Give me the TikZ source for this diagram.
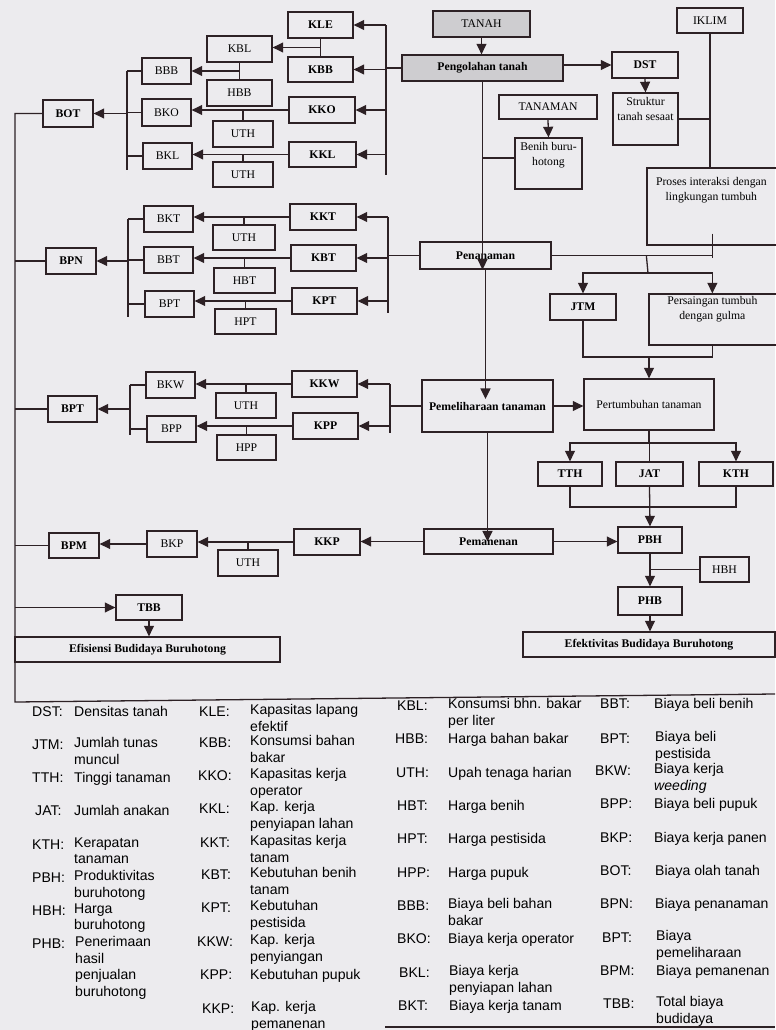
\documentclass[tikz,border=0pt]{standalone}
\usepackage{fontspec}
\setmainfont{Liberation Serif}
\setsansfont{Liberation Sans}
\usetikzlibrary{arrows.meta,calc}
\definecolor{bgc}{RGB}{236,235,238}
\definecolor{lnc}{RGB}{45,33,37}
\definecolor{shd}{RGB}{206,205,208}
\tikzset{
 bx/.style={draw=lnc, line width=1.1pt, inner sep=0pt, align=center, font=\fontsize{10}{12.8}\selectfont},
 bf/.style={font=\fontsize{10}{12.8}\selectfont\bfseries},
 shaded/.style={fill=shd},
 wire/.style={draw=lnc, line width=1.1pt},
 arr/.style={draw=lnc, line width=1.1pt, -{Triangle[length=9pt,width=8.5pt]}},
 tx/.style={inner sep=0pt, align=center, font=\fontsize{10}{12.8}\selectfont},
 lg/.style={inner sep=0pt, anchor=north west, align=left, font=\sffamily\fontsize{12}{14.1}\selectfont, execute at begin node=\strut},
}
\newcommand\Bx[7][]{\node[bx,#1,minimum width={(#4-#2)*0.03cm},minimum height={(#5-#3)*0.03cm}] (#6) at ({(#2+#4)/2},{(#3+#5)/2}) {#7};}
\newcommand\Lg[5]{\node[lg] at (#1,{#3-6.6}) {#4}; \node[lg] at (#2,{#3-6.6}) {#5};}
\begin{document}
\begin{tikzpicture}[x=0.03cm,y=-0.03cm]
\useasboundingbox (0,0) rectangle (775,1030);
\fill[bgc] (0,0) rectangle (775,1030);

% ---------- boxes ----------
\Bx{207}{36}{272}{62}{kbl}{KBL}
\Bx{207}{80}{272}{106}{hbb}{HBB}
\Bx{213}{121}{273}{147}{uth1}{UTH}
\Bx{213}{162}{273}{187}{uth2}{UTH}
\Bx{142}{58}{191}{84}{bbb}{BBB}
\Bx{142}{99}{191}{126}{bko}{BKO}
\Bx{143}{143}{192}{169}{bkl}{BKL}
\Bx[bf]{43}{100}{93}{127}{bot}{BOT}
\Bx[bf]{288}{12}{353}{38}{kle}{KLE}
\Bx[bf]{288}{57}{353}{82}{kbb}{KBB}
\Bx[bf]{289}{97}{355}{123}{kko}{KKO}
\Bx[bf]{289}{142}{356}{167}{kkl}{KKL}
\Bx[shaded]{433}{11}{530}{37}{tanah}{TANAH}
\Bx[shaded,bf]{402}{55}{563}{81}{peng}{Pengolahan tanah}
\Bx{499}{95}{597}{119}{tanaman}{TANAMAN}
\Bx{515}{138}{582}{189}{benih}{}
\node[tx,anchor=north] (benihT) at ($(benih.north)+(0,5)$) {Benih buru-\\hotong};
\Bx[bf]{612}{52}{678}{78}{dst}{DST}
\Bx{613}{93}{678}{145}{struk}{}
\node[tx,anchor=north] (strukT) at ($(struk.north)+(0,5)$) {Struktur\\tanah sesaat};
\Bx{677}{8}{743}{33}{iklim}{IKLIM}
\Bx{647}{168}{792}{245}{proses}{}
\node[tx,anchor=north] (prosesT) at ($(proses.north west)+(65,10)$) {Proses interaksi dengan\\lingkungan tumbuh};

\Bx{144}{206}{193}{232}{bkt}{BKT}
\Bx{144}{247}{193}{273}{bbt}{BBT}
\Bx{145}{291}{194}{317}{bpta}{BPT}
\Bx[bf]{46}{248}{96}{274}{bpn}{BPN}
\Bx{213}{225}{275}{250}{uth3}{UTH}
\Bx{214}{268}{275}{293}{hbt}{HBT}
\Bx{215}{309}{276}{334}{hpt}{HPT}
\Bx[bf]{290}{204}{356}{230}{kkt}{KKT}
\Bx[bf]{291}{245}{356}{271}{kbt}{KBT}
\Bx[bf]{292}{288}{357}{314}{kpt}{KPT}
\Bx[bf]{420}{242}{551}{269}{pena}{Penanaman}

\Bx[bf]{292}{371}{357}{397}{kkw}{KKW}
\Bx[bf]{293}{413}{358}{439}{kpp}{KPP}
\Bx{146}{372}{195}{398}{bkw}{BKW}
\Bx{147}{416}{196}{442}{bpp}{BPP}
\Bx[bf]{48}{396}{97}{422}{bptb}{BPT}
\Bx{216}{393}{276}{418}{uth4}{UTH}
\Bx{217}{435}{276}{460}{hpp}{HPP}
\Bx[bf]{422}{380}{553}{432}{pemel}{Pemeliharaan tanaman}

\Bx[bf]{550}{294}{616}{320}{jtm}{JTM}
\Bx{649}{294}{792}{345}{pers}{}
\coordinate (persN) at ($(pers.north west)+(64,0)$);
\coordinate (persS) at ($(pers.south west)+(64,0)$);
\node[tx,anchor=north] (persT) at ($(persN)+(0,3)$) {Persaingan tumbuh\\dengan gulma};
\Bx{584}{379}{714}{430}{pert}{Pertumbuhan tanaman}
\Bx[bf]{538}{462}{602}{486}{tth}{TTH}
\Bx[bf]{616}{462}{683}{486}{jat}{JAT}
\Bx[bf]{699}{462}{773}{486}{kth}{KTH}
\Bx[bf]{618}{527}{682}{553}{pbh}{PBH}
\Bx{700}{557}{749}{582}{hbh}{HBH}
\Bx[bf]{618}{587}{682}{615}{phb}{PHB}
\Bx[bf]{523}{632}{775}{657}{efek}{Efektivitas Budidaya Buruhotong}

\Bx[bf]{294}{529}{360}{555}{kkp}{KKP}
\Bx[bf]{424}{529}{553}{554}{pemn}{Pemanenan}
\Bx{218}{550}{278}{576}{uth5}{UTH}
\Bx{147}{531}{197}{557}{bkp}{BKP}
\Bx[bf]{49}{533}{99}{558}{bpm}{BPM}
\Bx[bf]{116}{595}{182}{620}{tbb}{TBB}
\Bx[bf]{15}{637}{280}{662}{efis}{Efisiensi Budidaya Buruhotong}

% ---------- connectors: top-left ----------
\draw[wire] (kle.south) -- (kbb.north);
\coordinate (m1) at ($(kle.south)!.5!(kbb.north)$);
\draw[arr] (m1) -- (m1 -| kbl.east);
\draw[wire] (kbl.south) -- (hbb.north);
\coordinate (m2) at ($(kbl.south)!.5!(hbb.north)$);
\draw[arr] (m2) -- (m2 -| bbb.east);

\coordinate (b1) at (386,24);
\draw[wire] (b1 |- kle) -- (386,175);
\draw[arr] (b1 |- kle) -- (kle);
\draw[wire] (peng.west) -- (peng.west -| b1);
\draw[arr] (b1 |- kbb) -- (kbb);
\draw[arr] (b1 |- kko) -- (kko);
\draw[arr] (b1 |- kkl) -- (kkl);

\draw[arr] (kko.west) -- (kko.west -| bko.east);
\draw[wire] (uth1.north) -- (uth1.north |- kko.west);
\draw[arr] (kkl.west) -- (kkl.west -| bkl.east);
\draw[wire] (uth2.north) -- (uth2.north |- kkl.west);

\coordinate (b2) at (127,70);
\draw[wire] (b2 |- bbb) -- (127,170);
\draw[wire] (b2 |- bbb) -- (bbb);
\draw[wire] (b2 |- bko) -- (bko);
\draw[wire] (b2 |- bkl) -- (bkl);
\draw[arr] (b2 |- bot) -- (bot);

% left collecting line and legend frame
\coordinate (lb) at (15,114);
\draw[wire] (bot.west) -| (15,702) -- (775,694);
\draw[wire] (385,1027) -- (775,1027);

% ---------- Penanaman cluster ----------
\coordinate (b3) at (388,213);
\draw[wire] (b3 |- kkt) -- (388,313);
\draw[arr] (b3 |- kkt) -- (kkt);
\draw[arr] (b3 |- kbt) -- (kbt);
\draw[arr] (b3 |- kpt) -- (kpt);
\draw[wire] (pena.west) -- (pena.west -| b3);
\draw[arr] (kkt.west) -- (kkt.west -| bkt.east);
\draw[wire] (uth3.north) -- (uth3.north |- kkt.west);
\draw[arr] (kbt.west) -- (kbt.west -| bbt.east);
\draw[wire] (hbt.north) -- (hbt.north |- kbt.west);
\draw[arr] (kpt.west) -- (kpt.west -| bpta.east);
\draw[wire] (hpt.north) -- (hpt.north |- kpt.west);
\coordinate (b4) at (128,215);
\draw[wire] (b4 |- bkt) -- (128,317);
\draw[wire] (b4 |- bkt) -- (bkt);
\draw[wire] (b4 |- bbt) -- (bbt);
\draw[wire] (b4 |- bpta) -- (bpta);
\draw[arr] (b4 |- bpn) -- (bpn);
\draw[wire] (bpn) -- (lb |- bpn);

% ---------- Pemeliharaan cluster ----------
\coordinate (b5) at (390,382);
\draw[wire] (b5 |- kkw) -- (390,433);
\draw[arr] (b5 |- kkw) -- (kkw);
\draw[arr] (b5 |- kpp) -- (kpp);
\draw[wire] (pemel.west) -- (pemel.west -| b5);
\draw[arr] (kkw.west) -- (kkw.west -| bkw.east);
\draw[wire] (uth4.north) -- (uth4.north |- kkw.west);
\draw[arr] (kpp.west) -- (kpp.west -| bpp.east);
\draw[wire] (hpp.north) -- (hpp.north |- kpp.west);
\coordinate (b6) at (130,385);
\draw[wire] (b6 |- bkw) -- (130,435);
\draw[wire] (b6 |- bkw) -- (bkw);
\draw[wire] (b6 |- bpp) -- (bpp);
\draw[arr] (b6 |- bptb) -- (bptb);
\draw[wire] (bptb) -- (lb |- bptb);

% ---------- Pemanenan cluster ----------
\draw[arr] (pemn.west) -- (pemn.west -| kkp.east);
\draw[arr] (kkp.west) -- (kkp.west -| bkp.east);
\draw[wire] (uth5.north) -- (uth5.north |- kkp.west);
\draw[arr] (bkp.west) -- (bkp.west -| bpm.east);
\draw[wire] (bpm) -- (lb |- bpm);
\draw[arr] (lb |- tbb) -- (tbb);
\draw[arr] (tbb.south) -- (tbb.south |- efis.north);

% ---------- main vertical process ----------
\draw[arr] (tanah.south) -- (tanah.south |- peng.north);
\draw[arr] (peng.south) -- (peng.south |- pena.south);
\coordinate (bj) at (483,158);
\draw[wire] (peng.south |- bj) -- (benih.west |- bj);
\draw[arr] (tanaman.south) -- (benih.north);
\draw[arr] (pena.south) -- ($(pena.south |- pemel.center)+(0,-7)$);
\draw[arr] (pemel.south) -- (pemel.south |- pemn.center);

% ---------- right side ----------
\draw[arr] (peng.east |- dst) -- (dst);
\draw[arr] (dst.south) -- (struk.north);
\draw[wire] (iklim.south) -- (iklim.south |- proses.north);
\draw[wire] (struk.east) -- (struk.east -| iklim.south);

\coordinate (pj) at ($(proses.south west)+(66,0)$);
\draw[wire] (pena.east) -- (pena.east -| pj);
\draw[wire] ($(pj)+(0,-12)$) -- ($(pj)+(0,12)$);
\coordinate (sp) at (648,273);
\draw[wire] (pena.east -| proses.west) -- (sp);
\draw[arr] (sp) -| (jtm.north);
\draw[arr] (sp) -| (persN);

\coordinate (jm) at (649,357);
\draw[wire] (jtm.south) |- (persS |- jm) -- (persS);
\draw[arr] (jm) -- (pert.north);
\draw[arr] (pemel.east) -- (pemel.east -| pert.west);

\coordinate (ps) at (649,443);
\draw[wire] (pert.south) -- (ps);
\draw[arr] (ps) -| (tth.north);
\draw[arr] (ps) -| (kth.north);
\draw[wire] (ps) -- (ps -| jat.north) -- (jat.north);
\coordinate (tb) at (650,507);
\draw[wire] (tth.south) |- (tb) -| (kth.south);
\draw[arr] (jat.south) -- (pbh.north);
\draw[arr] (pemn.east) -- (pemn.east -| pbh.west);
\draw[arr] (pbh.south) -- (phb.north);
\draw[wire] (hbh.west) -- (hbh.west -| pbh.south);
\draw[arr] (phb.south) -- (phb.south |- efek.north);

% ---------- legend ----------
\Lg{32}{74}{711}{DST:}{Densitas tanah}
\Lg{32}{74}{744}{JTM:}{Jumlah tunas\\muncul}
\Lg{32}{74}{777}{TTH:}{Tinggi tanaman}
\Lg{35}{74}{810}{JAT:}{Jumlah anakan}
\Lg{32}{74}{844}{KTH:}{Kerapatan\\tanaman}
\Lg{32}{74}{877}{PBH:}{Produktivitas\\buruhotong}
\Lg{32}{74}{910}{HBH:}{Harga\\buruhotong}
\Lg{32}{75}{943}{PHB:}{Penerimaan\\hasil\\penjualan\\buruhotong}

\Lg{199}{250}{711}{KLE:}{Kapasitas lapang\\efektif}
\Lg{199}{250}{742}{KBB:}{Konsumsi bahan\\bakar}
\Lg{198}{250}{775}{KKO:}{Kapasitas kerja\\operator}
\Lg{199}{250}{808}{KKL:}{Kap. kerja\\penyiapan lahan}
\Lg{200}{250}{842}{KKT:}{Kapasitas kerja\\tanam}
\Lg{201}{250}{874}{KBT:}{Kebutuhan benih\\tanam}
\Lg{201}{250}{907}{KPT:}{Kebutuhan\\pestisida}
\Lg{197}{250}{941}{KKW:}{Kap. kerja\\penyiangan}
\Lg{200}{250}{974}{KPP:}{Kebutuhan pupuk}
\Lg{202}{251}{1008}{KKP:}{Kap. kerja\\pemanenan}

\Lg{397}{448}{705}{KBL:}{Konsumsi bhn. bakar\\per liter}
\Lg{395}{448}{738}{HBB:}{Harga bahan bakar}
\Lg{396}{448}{772}{UTH:}{Upah tenaga harian}
\Lg{397}{448}{805}{HBT:}{Harga benih}
\Lg{397}{448}{838}{HPT:}{Harga pestisida}
\Lg{397}{448}{872}{HPP:}{Harga pupuk}
\Lg{397}{448}{905}{BBB:}{Biaya beli bahan\\bakar}
\Lg{397}{448}{938}{BKO:}{Biaya kerja operator}
\Lg{399}{449}{972}{BKL:}{Biaya kerja\\penyiapan lahan}
\Lg{398}{449}{1005}{BKT:}{Biaya kerja tanam}

\Lg{600}{654}{703}{BBT:}{Biaya beli benih}
\Lg{600}{655}{738}{BPT:}{Biaya beli\\pestisida}
\Lg{595}{654}{770}{BKW:}{Biaya kerja\\\textit{weeding}}
\Lg{600}{654}{803}{BPP:}{Biaya beli pupuk}
\Lg{600}{654}{837}{BKP:}{Biaya kerja panen}
\Lg{600}{655}{870}{BOT:}{Biaya olah tanah}
\Lg{600}{655}{903}{BPN:}{Biaya penanaman}
\Lg{602}{656}{937}{BPT:}{Biaya\\pemeliharaan}
\Lg{600}{656}{970}{BPM:}{Biaya pemanenan}
\Lg{603}{656}{1003}{TBB:}{Total biaya\\budidaya}
\end{tikzpicture}
\end{document}
